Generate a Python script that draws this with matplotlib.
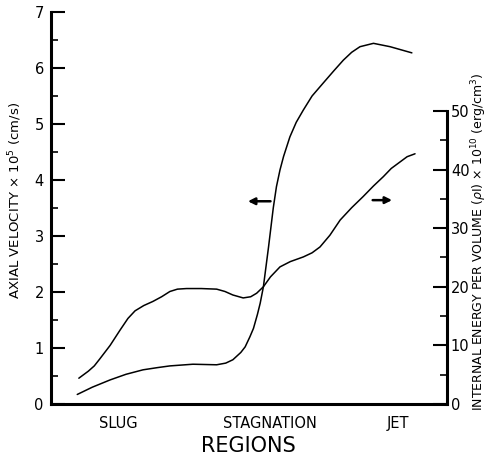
import matplotlib.pyplot as plt
from matplotlib.ticker import MultipleLocator, FixedLocator

# positions along the flow (arbitrary units, 0-100)
vel_x = [6.7, 10.5, 15.0, 19.0, 23.3, 27.0, 30.1, 35.9, 41.9, 44.2, 46.0,
         48.0, 49.1, 50.3, 51.2, 52.2, 52.9, 53.7, 55.0, 56.2, 57.0, 57.9,
         58.8, 60.4, 62.0, 63.8, 66.0, 68.8, 71.5, 73.9, 76.0, 78.1, 81.5,
         85.7, 91.2]
# axial velocity x 10^5 cm/s
vel = [0.17, 0.30, 0.43, 0.53, 0.61, 0.65, 0.68, 0.71, 0.70, 0.73, 0.79,
       0.92, 1.02, 1.20, 1.35, 1.60, 1.80, 2.09, 2.80, 3.50, 3.88, 4.18,
       4.42, 4.77, 5.03, 5.25, 5.50, 5.73, 5.95, 6.14, 6.28, 6.38, 6.44,
       6.38, 6.27]

energy_x = [7.1, 9.5, 11.0, 12.4, 15.0, 17.5, 19.5, 21.3, 23.5, 25.8, 28.0,
            30.1, 32.0, 34.3, 38.0, 41.9, 44.0, 46.0, 48.6, 50.5, 52.0, 53.7,
            55.5, 57.9, 60.5, 63.8, 66.0, 68.0, 70.5, 73.1, 76.0, 78.9, 81.5,
            84.0, 86.0, 88.2, 90.0, 92.0]
# internal energy per volume x 10^10 erg/cm^3
energy = [4.4, 5.6, 6.5, 7.7, 10.0, 12.6, 14.6, 15.9, 16.8, 17.5, 18.3,
          19.2, 19.6, 19.7, 19.7, 19.6, 19.2, 18.6, 18.1, 18.3, 18.9, 20.0,
          21.7, 23.4, 24.3, 25.1, 25.8, 26.8, 28.8, 31.4, 33.5, 35.4, 37.2,
          38.8, 40.2, 41.3, 42.2, 42.7]

regions = ["SLUG", "STAGNATION", "JET"]
region_x = [17.0, 55.4, 87.7]

plt.rcParams['font.family'] = 'DejaVu Sans'

fig = plt.figure(figsize=(4.91, 4.57), dpi=100)
ax = fig.add_axes([0.1033, 0.116, 0.8065, 0.8578])
ax2 = ax.twinx()

line = dict(color='black', lw=1.1, solid_joinstyle='round', solid_capstyle='round')
ax.plot(vel_x, vel, **line)
ax2.plot(energy_x, energy, **line)

ax.set_xlim(0, 100)
ax.set_ylim(0, 7)
ax2.set_ylim(0, 66.9)

for a in (ax, ax2):
    a.spines['top'].set_visible(False)
    for s in a.spines.values():
        s.set_linewidth(2.2)
ax.spines['right'].set_visible(False)
ax2.spines['left'].set_visible(False)
ax2.spines['bottom'].set_visible(False)
ax2.spines['right'].set_bounds(0, 50)

ax.yaxis.set_major_locator(MultipleLocator(1))
ax.yaxis.set_minor_locator(MultipleLocator(0.5))
ax.tick_params(axis='y', which='major', direction='in', length=10, width=1.5,
               labelsize=10.5, pad=5)
ax.tick_params(axis='y', which='minor', direction='in', length=5, width=1.2)

ax2.yaxis.set_major_locator(FixedLocator([0, 10, 20, 30, 40, 50]))
ax2.yaxis.set_minor_locator(FixedLocator([5, 15, 25, 35, 45]))
ax2.tick_params(axis='y', which='major', direction='in', length=10, width=1.5,
                labelsize=10.5, pad=3)
ax2.tick_params(axis='y', which='minor', direction='in', length=5, width=1.2)

ax.set_xticks(region_x, regions)
ax.tick_params(axis='x', length=0, labelsize=10.5, pad=9)
ax.set_xlabel("REGIONS", fontsize=15, labelpad=3)

ax.set_ylabel(r"AXIAL VELOCITY $\times$ 10$^5$ (cm/s)", fontsize=9.5)
ax.yaxis.set_label_coords(-0.068, 0.52)
fig.text(0.976, 0.47, r"INTERNAL ENERGY PER VOLUME ($\rho$I) $\times$ 10$^{10}$ (erg/cm$^3$)",
         rotation=90, ha='center', va='center', fontsize=9)

# arrows pointing each curve to its own axis
arrow = dict(arrowstyle='-|>', color='black', lw=1.8, mutation_scale=10)
ax.annotate('', xy=(49.1, 3.62), xytext=(56.2, 3.62), arrowprops=arrow)
ax.annotate('', xy=(86.9, 3.64), xytext=(80.6, 3.64), arrowprops=arrow)

fig.savefig("out.png", dpi=100)
